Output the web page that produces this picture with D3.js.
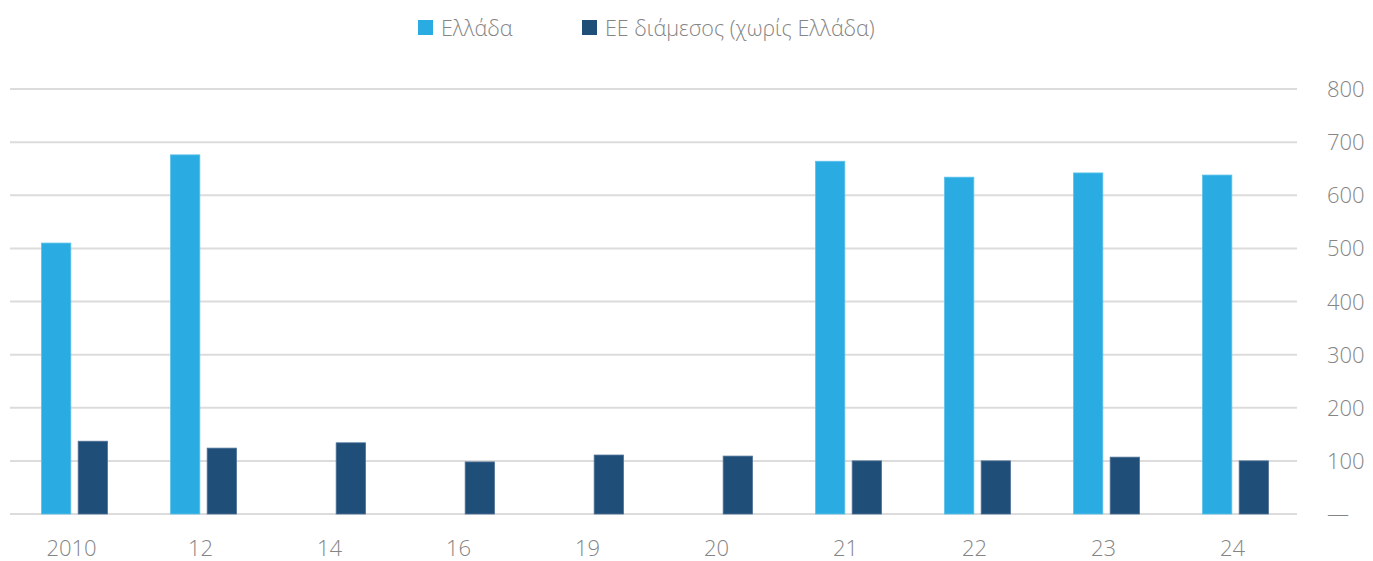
<!DOCTYPE html>
<html>
<head>
<meta charset="utf-8">
<style>
body {margin: 0; background: #fff;}
text {font-family: "Open Sans", "Noto Sans", sans-serif; font-weight: 300; fill: #858585;}
</style>
</head>
<body>
<div id="chart"></div>
<script src="https://cdn.jsdelivr.net/npm/d3@7"></script>
<script>
var years = ['2010', '12', '14', '16', '19', '20', '21', '22', '23', '24'];
var greece = [510, 676, null, null, null, null, 664, 634, 642, 638];
var euMedian = [137, 124, 134, 98, 111, 109, 100, 100, 107, 100];
var seriesNames = ['Ελλάδα', 'ΕΕ διάμεσος (χωρίς Ελλάδα)'];
var yTicks = [0, 100, 200, 300, 400, 500, 600, 700, 800];

var width = 1373, height = 561;
var colors = ['#2aace2', '#1f4e79'];

var svg = d3.select('#chart').append('svg')
	.attr('width', width)
	.attr('height', height);

var x = d3.scaleBand().domain(years).range([10, 1300]).paddingInner(0).paddingOuter(0);
var x1 = d3.scaleBand().domain([0, 1]).range([x.bandwidth() / 2 - 33, x.bandwidth() / 2 + 33]).paddingInner(0.2);
var y = d3.scaleLinear().domain([0, 800]).range([514, 89]);

// grid
svg.append('g').selectAll('line')
	.data(yTicks)
	.enter().append('line')
	.attr('x1', 10).attr('x2', 1297)
	.attr('y1', function(d) { return y(d); })
	.attr('y2', function(d) { return y(d); })
	.attr('stroke', '#dcdcdc')
	.attr('stroke-width', 2);

// right axis labels
svg.append('g').selectAll('text')
	.data(yTicks)
	.enter().append('text')
	.attr('x', 1327)
	.attr('y', function(d) { return y(d) + 8; })
	.style('font-size', '22px')
	.text(function(d) { return d === 0 ? '—' : d; });

var data = years.map(function(yr, i) { return {year: yr, vals: [greece[i], euMedian[i]]}; });

var groups = svg.append('g').selectAll('g')
	.data(data)
	.enter().append('g')
	.attr('transform', function(d) { return 'translate(' + x(d.year) + ',0)'; });

groups.selectAll('rect')
	.data(function(d) { return d.vals.map(function(v, k) { return {k: k, v: v}; }).filter(function(e) { return e.v != null; }); })
	.enter().append('rect')
	.attr('x', function(d) { return x1(d.k); })
	.attr('width', x1.bandwidth())
	.attr('y', function(d) { return y(d.v); })
	.attr('height', function(d) { return y(0) - y(d.v); })
	.attr('fill', function(d) { return colors[d.k]; })
	.attr('stroke', function(d) { return d.k === 0 ? '#5cc0ea' : '#4f7296'; })
	.attr('stroke-width', 0.8);

// x labels
svg.append('g').selectAll('text')
	.data(years)
	.enter().append('text')
	.attr('x', function(d) { return x(d) + x.bandwidth() / 2 - 3; })
	.attr('y', 556)
	.attr('text-anchor', 'middle')
	.style('font-size', '22px')
	.text(function(d) { return d; });

// legend
var legendX = [418, 582];
var legend = svg.append('g').selectAll('g')
	.data(seriesNames)
	.enter().append('g')
	.attr('transform', function(d, i) { return 'translate(' + legendX[i] + ',20)'; });
legend.append('rect')
	.attr('width', 15).attr('height', 15)
	.attr('fill', function(d, i) { return colors[i]; });
legend.append('text')
	.attr('x', 23).attr('y', 16)
	.style('font-size', '21.5px')
	.text(function(d) { return d; });
</script>
</body>
</html>
